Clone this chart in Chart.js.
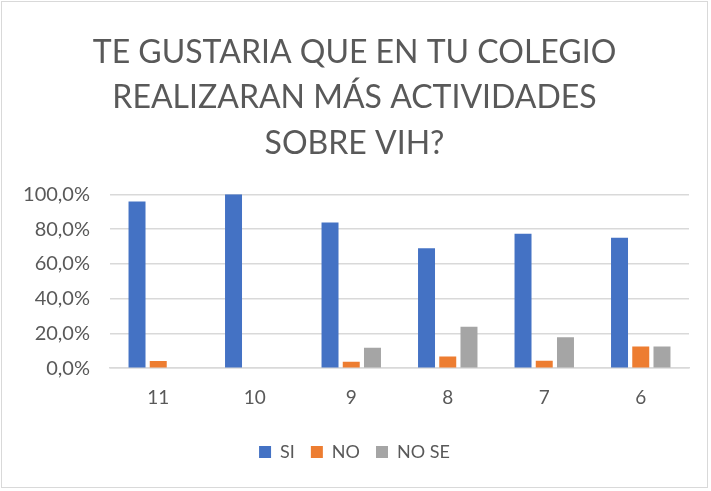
<!DOCTYPE html>
<html lang="es">
<head>
  <meta charset="UTF-8">
  <title>Actividades sobre VIH</title>
  <script src="https://cdn.jsdelivr.net/npm/chart.js"></script>
  <style>
    html, body {
      margin: 0;
      padding: 0;
      background: #ffffff;
    }
    .chart-box {
      position: relative;
      width: 707px;
      height: 487px;
      margin: 1px;
      border: 1px solid #d9d9d9;
      box-sizing: border-box;
      background: #ffffff;
    }
  </style>
</head>
<body>
  <div class="chart-box">
    <canvas id="chart"></canvas>
  </div>
  <script>
    // categorías (grado) y series en porcentaje
    const grados = ['11', '10', '9', '8', '7', '6'];
    const si = [95.8, 100, 83.8, 69.0, 77.3, 75.0];
    const no = [4.2, 0, 3.7, 6.7, 4.3, 12.5];
    const noSe = [0, 0, 11.8, 23.8, 17.8, 12.5];
    const titulo = ['TE GUSTARIA QUE EN TU COLEGIO', 'REALIZARAN MÁS ACTIVIDADES', 'SOBRE VIH?'];

    const gris = '#595959';

    new Chart(document.getElementById('chart'), {
      type: 'bar',
      data: {
        labels: grados,
        datasets: [
          { label: 'SI', data: si, backgroundColor: '#4472c4' },
          { label: 'NO', data: no, backgroundColor: '#ed7d31' },
          { label: 'NO SE', data: noSe, backgroundColor: '#a5a5a5' }
        ]
      },
      options: {
        responsive: true,
        maintainAspectRatio: false,
        animation: false,
        categoryPercentage: 0.66,
        barPercentage: 0.8,
        layout: {
          padding: { left: 18, right: 18, top: 28, bottom: 16 }
        },
        plugins: {
          title: {
            display: true,
            text: titulo,
            color: gris,
            font: { family: 'Lato', size: 32, weight: 'normal', lineHeight: 1.42 },
            padding: { top: 0, bottom: 28 }
          },
          legend: {
            position: 'bottom',
            labels: {
              color: gris,
              font: { family: 'Lato', size: 18 },
              boxWidth: 12,
              boxHeight: 12,
              padding: 16
            }
          },
          tooltip: { enabled: false }
        },
        scales: {
          x: {
            grid: { display: false, drawTicks: false },
            border: { display: true, color: '#d9d9d9', width: 1.5 },
            ticks: {
              color: gris,
              font: { family: 'Lato', size: 19 },
              padding: 18
            }
          },
          y: {
            min: 0,
            max: 100,
            afterFit: scale => { scale.width = 90; },
            grid: { color: '#d9d9d9', lineWidth: 1.5, drawTicks: false },
            border: { display: false },
            ticks: {
              stepSize: 20,
              color: gris,
              font: { family: 'Lato', size: 20 },
              padding: 20,
              callback: v => v.toFixed(1).replace('.', ',') + '%'
            }
          }
        }
      }
    });
  </script>
</body>
</html>
